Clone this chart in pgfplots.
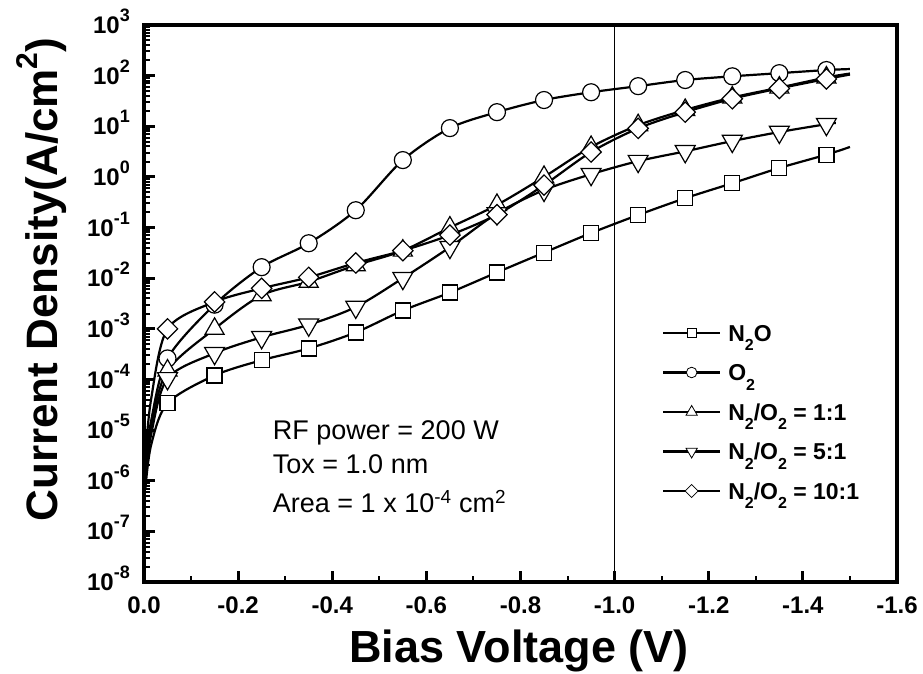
\documentclass[border=0pt]{standalone}
\usepackage{fontspec}
\setmainfont{Liberation Sans}
\usepackage{pgfplots}
\usepackage{pgfplotstable}
\pgfplotsset{compat=1.18}
\newcommand\tsup[1]{\raisebox{0.5em}{\fontsize{18}{18}\selectfont #1}}
\newcommand\lsub[1]{\raisebox{-0.42em}{\fontsize{16}{16}\selectfont #1}}

\pgfplotstableread{
x y
-0.003 7e-7
-0.015 5e-6
-0.05 3.4e-5
-0.15 1.2e-4
-0.25 2.4e-4
-0.35 4.1e-4
-0.45 8.5e-4
-0.55 2.3e-3
-0.65 5.2e-3
-0.75 1.3e-2
-0.85 3.2e-2
-0.95 7.8e-2
-1.05 0.177
-1.15 0.38
-1.25 0.75
-1.35 1.5
-1.45 2.75
-1.5 3.9
}\tNtwoO

\pgfplotstableread{
x y
-0.003 2e-6
-0.015 1.5e-5
-0.05 2.6e-4
-0.15 3.0e-3
-0.25 1.65e-2
-0.35 4.9e-2
-0.45 0.22
-0.55 2.15
-0.65 9.2
-0.75 19
-0.85 33
-0.95 47
-1.05 62
-1.15 82
-1.25 97
-1.35 112
-1.45 129
-1.5 135
}\tOtwo

\pgfplotstableread{
x y
-0.003 1.5e-6
-0.015 1.2e-5
-0.05 1.5e-4
-0.15 1.0e-3
-0.25 4.6e-3
-0.35 8.5e-3
-0.45 0.018
-0.55 0.035
-0.65 0.10
-0.75 0.28
-0.85 1.0
-0.95 3.9
-1.05 10.5
-1.15 21
-1.25 37
-1.35 58
-1.45 92
-1.5 110
}\tOneOne

\pgfplotstableread{
x y
-0.003 1e-6
-0.015 8e-6
-0.05 1.05e-4
-0.15 3.3e-4
-0.25 6.8e-4
-0.35 1.2e-3
-0.45 2.7e-3
-0.55 1.0e-2
-0.65 0.041
-0.75 0.19
-0.85 0.55
-0.95 1.13
-1.05 2.05
-1.15 3.2
-1.25 5.1
-1.35 7.7
-1.45 11
-1.47 11.6
}\tFiveOne

\pgfplotstableread{
x y
-0.003 3e-6
-0.015 4e-5
-0.05 1.0e-3
-0.15 3.4e-3
-0.25 6.3e-3
-0.35 1.04e-2
-0.45 0.020
-0.55 0.035
-0.65 0.071
-0.75 0.18
-0.85 0.69
-0.95 3.1
-1.05 9.1
-1.15 19
-1.25 35
-1.35 56
-1.45 86
-1.5 105
}\tTenOne

\begin{document}
\begin{tikzpicture}
\useasboundingbox (-144pt,-91pt) rectangle (779pt,582pt);
\begin{axis}[
  scale only axis, width=753pt, height=557pt,
  at={(0pt,0pt)}, anchor=south west,
  x dir=reverse, xmin=-1.6, xmax=0,
  ymode=log, ymin=1e-8, ymax=1e3,
  xtick={0,-0.2,-0.4,-0.6,-0.8,-1,-1.2,-1.4,-1.6},
  xticklabels={0.0,-0.2,-0.4,-0.6,-0.8,-1.0,-1.2,-1.4,-1.6},
  minor xtick={-0.1,-0.3,-0.5,-0.7,-0.9,-1.1,-1.3,-1.5},
  ytick={1e-8,1e-7,1e-6,1e-5,1e-4,1e-3,1e-2,1e-1,1,10,100,1000},
  yticklabels={10\tsup{-8},10\tsup{-7},10\tsup{-6},10\tsup{-5},10\tsup{-4},10\tsup{-3},10\tsup{-2},10\tsup{-1},10\tsup{0},10\tsup{1},10\tsup{2},10\tsup{3}},
  minor ytick={2e-8,3e-8,4e-8,5e-8,6e-8,7e-8,8e-8,9e-8,
    2e-7,3e-7,4e-7,5e-7,6e-7,7e-7,8e-7,9e-7,
    2e-6,3e-6,4e-6,5e-6,6e-6,7e-6,8e-6,9e-6,
    2e-5,3e-5,4e-5,5e-5,6e-5,7e-5,8e-5,9e-5,
    2e-4,3e-4,4e-4,5e-4,6e-4,7e-4,8e-4,9e-4,
    2e-3,3e-3,4e-3,5e-3,6e-3,7e-3,8e-3,9e-3,
    2e-2,3e-2,4e-2,5e-2,6e-2,7e-2,8e-2,9e-2,
    0.2,0.3,0.4,0.5,0.6,0.7,0.8,0.9,
    2,3,4,5,6,7,8,9,
    20,30,40,50,60,70,80,90,
    200,300,400,500,600,700,800,900},
  tick pos=left,
  tick align=inside,
  major tick length=11pt, minor tick length=6pt,
  every major tick/.append style={line width=3pt, black},
  every minor tick/.append style={line width=2pt, black},
  xticklabel style={font=\fontsize{24}{24}\bfseries\selectfont, inner sep=0pt, anchor=north, yshift=-15pt},
  yticklabel style={font=\fontsize{24}{24}\bfseries\selectfont, inner sep=0pt, anchor=base east, xshift=-14pt, yshift=-8.6pt},
  xlabel={Bias Voltage (V)},
  xlabel style={at={(axis description cs:0.498,-0.085)}, anchor=north, inner sep=0pt, font=\fontsize{45}{45}\bfseries\selectfont},
  ylabel={Current Density(A/cm\raisebox{0.45em}{\fontsize{30}{30}\selectfont 2})},
  ylabel style={at={(axis description cs:-0.1145,0.543)}, anchor=base, inner sep=0pt, font=\fontsize{44}{44}\bfseries\selectfont},
  legend style={draw=none, fill=none, at={(axis description cs:0.688,0.4686)}, anchor=north west,
    inner sep=0pt, outer sep=0pt, column sep=7pt,
    nodes={inner sep=0pt, text height=20pt, text depth=19.5pt, anchor=base west},
    font=\fontsize{23}{23}\bfseries\selectfont},
  legend cell align=left,
  legend image code/.code={\draw[mark repeat=2,mark phase=2,#1] plot coordinates {(0pt,8pt) (28.5pt,8pt) (57pt,8pt)};},
  clip=false,
]
\addplot[black, line width=1.2pt, forget plot] coordinates {(-1,1e-8) (-1,1e3)};

\addplot[black, line width=2.2pt, smooth, no marks, forget plot] table {\tNtwoO};
\addplot[only marks, mark=square*, mark size=7.5pt, mark options={draw=black, fill=white, line width=1.2pt}, restrict x to domain=-1.46:-0.04, forget plot] table {\tNtwoO};

\addplot[black, line width=2.2pt, smooth, no marks, forget plot] table {\tOtwo};
\addplot[only marks, mark=*, mark size=8.5pt, mark options={draw=black, fill=white, line width=1.2pt}, restrict x to domain=-1.46:-0.04, forget plot] table {\tOtwo};

\addplot[black, line width=2.2pt, smooth, no marks, forget plot] table {\tOneOne};
\addplot[only marks, mark=triangle*, mark size=11pt, mark options={draw=black, fill=white, line width=1.2pt}, restrict x to domain=-1.46:-0.04, forget plot] table {\tOneOne};

\addplot[black, line width=2.2pt, smooth, no marks, forget plot] table {\tFiveOne};
\addplot[only marks, mark=triangle*, mark size=11.5pt, mark options={draw=black, fill=white, line width=1.2pt, rotate=180}, restrict x to domain=-1.46:-0.04, forget plot] table {\tFiveOne};

\addplot[black, line width=2.2pt, smooth, no marks, forget plot] table {\tTenOne};
\addplot[only marks, mark=square*, mark size=7.2pt, mark options={draw=black, fill=white, line width=1.2pt, rotate=45}, restrict x to domain=-1.46:-0.04, forget plot] table {\tTenOne};

\addlegendimage{black, line width=2.2pt, mark=square*, mark size=4.5pt, mark options={fill=white, line width=0.8pt}}
\addlegendentry{N\lsub{2}O}
\addlegendimage{black, line width=2.2pt, mark=*, mark size=5.3pt, mark options={fill=white, line width=0.8pt}}
\addlegendentry{O\lsub{2}}
\addlegendimage{black, line width=2.2pt, mark=triangle*, mark size=6.5pt, mark options={fill=white, line width=0.8pt}}
\addlegendentry{N\lsub{2}/O\lsub{2} = 1:1}
\addlegendimage{black, line width=2.2pt, mark=triangle*, mark size=6.5pt, mark options={fill=white, line width=0.8pt, rotate=180}}
\addlegendentry{N\lsub{2}/O\lsub{2} = 5:1}
\addlegendimage{black, line width=2.2pt, mark=square*, mark size=4.6pt, mark options={fill=white, line width=0.8pt, rotate=45}}
\addlegendentry{N\lsub{2}/O\lsub{2} = 10:1}

\node[anchor=base west, inner sep=0pt, font=\fontsize{27}{27}\selectfont] at (axis description cs:0.171,0.255) {RF power = 200 W};
\node[anchor=base west, inner sep=0pt, font=\fontsize{27}{27}\selectfont] at (axis description cs:0.171,0.1957) {Tox = 1.0 nm};
\node[anchor=base west, inner sep=0pt, font=\fontsize{27}{27}\selectfont] at (axis description cs:0.171,0.1239) {Area = 1 x 10\textsuperscript{-4} cm\textsuperscript{2}};
\draw[line width=4pt, line join=miter] (axis description cs:0,0) rectangle (axis description cs:1,1);
\end{axis}
\end{tikzpicture}
\end{document}
